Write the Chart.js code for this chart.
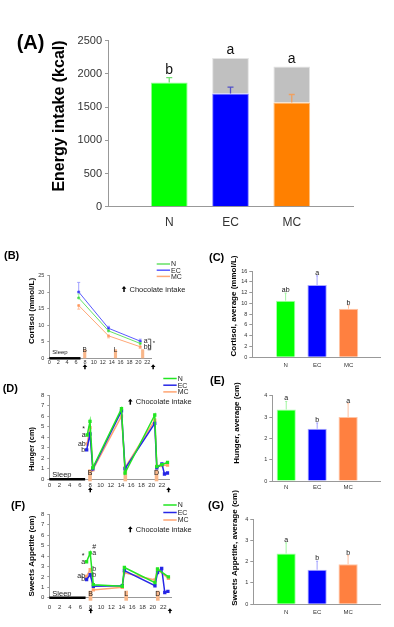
<!DOCTYPE html>
<html>
<head>
<meta charset="utf-8">
<script src="https://cdn.jsdelivr.net/npm/chart.js@4.4.1/dist/chart.umd.min.js"></script>
<style>
  body { margin: 0; background: #fff; width: 394px; height: 627px; position: relative; overflow: hidden;
         font-family: "Liberation Sans", Arial, sans-serif; }
  canvas { position: absolute; }
  .tag { position: absolute; font-weight: bold; line-height: 1; color: #000; }
</style>
</head>
<body>
<canvas id="cA" width="394" height="240" style="left:0;top:0"></canvas>
<canvas id="cB" width="200" height="135" style="left:0;top:240px"></canvas>
<canvas id="cC" width="194" height="135" style="left:200px;top:240px"></canvas>
<canvas id="cD" width="200" height="120" style="left:0;top:375px"></canvas>
<canvas id="cE" width="194" height="120" style="left:200px;top:375px"></canvas>
<canvas id="cF" width="200" height="137" style="left:0;top:490px"></canvas>
<canvas id="cG" width="194" height="137" style="left:200px;top:490px"></canvas>

<div class="tag" style="left:16.7px;top:31.6px;font-size:20px">(A)</div>
<div class="tag" style="left:4px;top:249.6px;font-size:11px">(B)</div>
<div class="tag" style="left:209px;top:252px;font-size:11px">(C)</div>
<div class="tag" style="left:2.7px;top:382.6px;font-size:11px">(D)</div>
<div class="tag" style="left:210px;top:374.6px;font-size:11px">(E)</div>
<div class="tag" style="left:11px;top:500px;font-size:11px">(F)</div>
<div class="tag" style="left:208px;top:500px;font-size:11px">(G)</div>

<script>
// ---- data ----
const groups = ['N', 'EC', 'MC'];
const groupPos = [1, 2, 3];

// (A) energy intake, kcal: meals + chocolate
const energyMeals = [1870, 1705, 1570];
const energyChoc = [0, 535, 540];
const energyErr = [75, 95, 120];
const energyLetters = ['b', 'a', 'a'];

// (C) cortisol average
const cortisolAvg = [10.5, 13.4, 9.0];
const cortisolAvgErr = [1.4, 1.7, 0.6];
const cortisolAvgLetters = ['ab', 'a', 'b'];

// (E) hunger average
const hungerAvg = [3.35, 2.45, 3.0];
const hungerAvgErr = [0.38, 0.27, 0.63];
const hungerAvgLetters = ['a', 'b', 'a'];

// (G) sweets appetite average
const sweetsAvg = [2.38, 1.62, 1.88];
const sweetsAvgErr = [0.5, 0.4, 0.4];
const sweetsAvgLetters = ['a', 'b', 'b'];

// time course common
const hourTicks = [0, 2, 4, 6, 8, 10, 12, 14, 16, 18, 20, 22];
const mealStart = [7.6, 14.5, 20.6];
const mealEnd = [8.3, 15.2, 21.3];
const mealNames = ['B', 'L', 'D'];
const chocTimes = [8, 23.3];
const sleepEnd = 7;

// (B) cortisol
const cortisolHours = [6.6, 13.3, 20.4];
const cortisolN = [18.3, 8.3, 4.5];
const cortisolEC = [20.1, 9.1, 5.2];
const cortisolMC = [16.0, 6.8, 3.5];
const cortisolErrN = [1.2, 0.6, 0.5];
const cortisolErrEC = [2.9, 0.6, 0.6];
const cortisolErrMC = [1.1, 0.6, 0.5];

// (D) hunger
const hungerHoursN = [7.4, 7.95, 8.5, 14.1, 14.8, 20.6, 21.0, 22.0, 23.1];
const hungerN = [4.2, 5.5, 1.1, 6.7, 0.6, 6.1, 1.2, 1.4, 1.6];
const hungerHoursEC = [7.3, 7.95, 8.5, 14.1, 14.8, 20.6, 21.0, 22.0, 22.5, 23.1];
const hungerEC = [2.8, 4.3, 1.0, 6.5, 1.0, 5.3, 1.1, 1.45, 0.5, 0.6];
const hungerHoursMC = [7.4, 7.95, 8.5, 14.1, 14.8, 20.6, 21.0, 22.0, 23.1];
const hungerMC = [3.35, 4.9, 0.9, 6.0, 1.1, 5.6, 1.25, 1.3, 1.35];

// (F) sweets appetite
const sweetsHoursN = [7.2, 7.9, 8.5, 14.1, 14.5, 20.4, 20.9, 23.0];
const sweetsN = [3.45, 4.3, 1.25, 1.1, 2.9, 1.45, 2.75, 2.0];
const sweetsHoursEC = [7.2, 7.9, 8.5, 14.1, 14.5, 20.4, 20.9, 21.7, 22.3, 22.9];
const sweetsEC = [1.75, 2.2, 1.1, 1.15, 2.6, 1.15, 2.4, 2.8, 0.5, 0.6];
const sweetsHoursMC = [7.2, 7.9, 8.5, 14.1, 14.5, 20.4, 20.9, 23.0];
const sweetsMC = [2.05, 2.7, 0.75, 1.0, 2.4, 1.7, 2.7, 1.85];

// ---- styling helpers ----
const FAM = '"Liberation Sans", Arial, sans-serif';
const AXIS = '#999';
const TICK = '#333';
const MEAL = '#f9b78a';
const f = (size) => ({ family: FAM, size: size });
const cf = (size, bold) => (bold ? 'bold ' : '') + size + 'px ' + FAM;
const pts = (xs, ys) => xs.map((v, i) => ({ x: v, y: ys[i] }));

function upArrow(ctx, x, top, h) {
  ctx.save();
  ctx.fillStyle = '#000';
  ctx.strokeStyle = '#000';
  ctx.beginPath();
  ctx.moveTo(x, top);
  ctx.lineTo(x - 2.3, top + 2.8);
  ctx.lineTo(x + 2.3, top + 2.8);
  ctx.closePath();
  ctx.fill();
  ctx.lineWidth = 1.5;
  ctx.beginPath();
  ctx.moveTo(x, top + 2);
  ctx.lineTo(x, top + h);
  ctx.stroke();
  ctx.restore();
}

// extra drawing: meals, sleep bar, error bars, letters, legend, titles
const decor = {
  id: 'decor',
  beforeDatasetsDraw(chart, args, o) {
    const ctx = chart.ctx, x = chart.scales.x, y = chart.scales.y;
    const y0 = y.getPixelForValue(0);
    if (o.meals) {
      const m = o.meals;
      ctx.save();
      mealStart.forEach((s, i) => {
        const l = x.getPixelForValue(s), r = x.getPixelForValue(mealEnd[i]);
        ctx.fillStyle = MEAL;
        ctx.fillRect(l, y0 - m.up, r - l, m.up + m.down);
        if (m.names[i]) {
          ctx.fillStyle = '#222';
          ctx.font = cf(m.size);
          ctx.textAlign = 'center';
          ctx.textBaseline = 'alphabetic';
          ctx.fillText(m.names[i], (l + r) / 2, y0 - m.up + m.drop);
        }
      });
      ctx.restore();
    }
    if (o.sleep) {
      ctx.save();
      ctx.strokeStyle = '#000';
      ctx.lineWidth = 2.5;
      ctx.beginPath();
      ctx.moveTo(x.getPixelForValue(0), y0);
      ctx.lineTo(x.getPixelForValue(sleepEnd), y0);
      ctx.stroke();
      ctx.fillStyle = '#222';
      ctx.font = cf(o.sleep.size);
      ctx.textBaseline = 'alphabetic';
      ctx.fillText('Sleep', x.getPixelForValue(0) + 3, y0 - o.sleep.lift);
      ctx.restore();
    }
    if (o.lineErr) {
      const e = o.lineErr;
      ctx.save();
      ctx.lineWidth = 1;
      chart.data.datasets.forEach((ds, di) => {
        ctx.strokeStyle = e.colors[di];
        ds.data.forEach((p, i) => {
          const px = x.getPixelForValue(p.x);
          const a = y.getPixelForValue(p.y);
          const b = y.getPixelForValue(p.y + e.sign[di] * e.errs[di][i]);
          ctx.beginPath();
          ctx.moveTo(px, a); ctx.lineTo(px, b);
          ctx.moveTo(px - 1.5, b); ctx.lineTo(px + 1.5, b);
          ctx.stroke();
        });
      });
      ctx.restore();
    }
  },
  afterDatasetsDraw(chart, args, o) {
    const ctx = chart.ctx, y = chart.scales.y;
    if (o.errBars) {
      const e = o.errBars;
      const base = chart.data.datasets[0].data;
      const meta = chart.getDatasetMeta(0);
      ctx.save();
      meta.data.forEach((bar, i) => {
        const top = y.getPixelForValue(base[i]);
        const et = y.getPixelForValue(base[i] + e.errs[i]);
        ctx.strokeStyle = e.colors[i];
        ctx.lineWidth = e.width;
        ctx.beginPath();
        ctx.moveTo(bar.x, top); ctx.lineTo(bar.x, et);
        ctx.moveTo(bar.x - e.cap, et); ctx.lineTo(bar.x + e.cap, et);
        ctx.stroke();
        if (o.barLetters) {
          let total = 0;
          chart.data.datasets.forEach(ds => { total += ds.data[i] || 0; });
          const yy = Math.min(et, y.getPixelForValue(total)) - o.barLetters.gap;
          ctx.fillStyle = '#111';
          ctx.font = cf(o.barLetters.size);
          ctx.textAlign = 'center';
          ctx.textBaseline = 'alphabetic';
          ctx.fillText(o.barLetters.texts[i], bar.x, yy);
        }
      });
      ctx.restore();
    }
    if (o.letters) {
      ctx.save();
      ctx.fillStyle = '#222';
      ctx.font = cf(o.letterSize);
      ctx.textBaseline = 'middle';
      o.letters.forEach(spec => {
        spec.texts.forEach((t, di) => {
          const pt = chart.getDatasetMeta(di).data[spec.index];
          if (!t || !pt) return;
          ctx.textAlign = spec.side < 0 ? 'right' : 'left';
          const tx = pt.x + spec.side * spec.gap;
          ctx.fillText(t, tx, pt.y);
          if (di === 0 && spec.mark) {
            ctx.textAlign = 'center';
            const w = ctx.measureText(t).width;
            ctx.fillText(spec.mark, tx + spec.side * w / 2, pt.y - 6);
          }
        });
      });
      ctx.restore();
    }
    if (o.bracket) {
      const b = o.bracket;
      const p1 = chart.getDatasetMeta(b.from).data[b.index];
      const p2 = chart.getDatasetMeta(b.to).data[b.index];
      const bx = p1.x + b.dx;
      ctx.save();
      ctx.strokeStyle = '#333';
      ctx.lineWidth = 0.8;
      ctx.beginPath();
      ctx.moveTo(bx - 3, p1.y - 2); ctx.lineTo(bx, p1.y - 2);
      ctx.lineTo(bx, p2.y + 3); ctx.lineTo(bx - 3, p2.y + 3);
      ctx.stroke();
      ctx.fillStyle = '#222';
      ctx.font = cf(6);
      ctx.textBaseline = 'middle';
      ctx.fillText('*', bx + 2, (p1.y + p2.y) / 2 - 1);
      ctx.restore();
    }
  },
  afterDraw(chart, args, o) {
    const ctx = chart.ctx;
    if (o.title) {
      const t = o.title;
      ctx.save();
      ctx.translate(t.cx, t.cy);
      ctx.rotate(-Math.PI / 2);
      ctx.fillStyle = '#000';
      ctx.font = cf(t.size, true);
      ctx.textAlign = 'center';
      ctx.textBaseline = 'middle';
      ctx.fillText(t.text, 0, 0);
      ctx.restore();
    }
    if (o.choc) {
      const x = chart.scales.x;
      chocTimes.forEach(t => upArrow(ctx, x.getPixelForValue(t), chart.chartArea.bottom + o.choc.drop, o.choc.h));
    }
    if (o.legend) {
      const l = o.legend;
      ctx.save();
      chart.data.datasets.forEach((ds, i) => {
        const yy = l.y + i * l.dy;
        ctx.strokeStyle = ds.borderColor;
        ctx.lineWidth = 1.5;
        ctx.beginPath();
        ctx.moveTo(l.x, yy); ctx.lineTo(l.x + l.len, yy);
        ctx.stroke();
        ctx.fillStyle = '#222';
        ctx.font = cf(l.size);
        ctx.textBaseline = 'middle';
        ctx.fillText(ds.label, l.x + l.len + 1, yy + 0.5);
      });
      upArrow(ctx, l.chocX, l.chocY - 3, 6);
      ctx.fillStyle = '#222';
      ctx.font = cf(l.chocSize);
      ctx.textBaseline = 'middle';
      ctx.fillText('Chocolate intake', l.chocX + 5.5, l.chocY + 0.5);
      ctx.restore();
    }
  }
};

function barChart(id, cfg) {
  return new Chart(document.getElementById(id), {
    type: 'bar',
    data: { labels: groupPos, datasets: cfg.datasets },
    options: {
      responsive: false,
      animation: false,
      layout: { padding: { left: 0, right: cfg.padR, top: cfg.padT, bottom: 0 } },
      plugins: { legend: { display: false }, tooltip: { enabled: false }, decor: cfg.decor },
      datasets: { bar: { categoryPercentage: 1, barPercentage: cfg.barPct } },
      scales: {
        x: {
          type: 'linear', min: cfg.xMin, max: cfg.xMax, offset: false,
          afterBuildTicks: s => { s.ticks = groupPos.map(v => ({ value: v })); },
          afterFit: s => { s.height = cfg.xH; },
          grid: { display: false, drawTicks: false, offset: false },
          border: { color: AXIS },
          ticks: { autoSkip: false, maxRotation: 0, font: f(cfg.xTick), color: TICK, padding: cfg.xPad,
                   callback: v => groups[groupPos.indexOf(v)] }
        },
        y: {
          min: 0, max: cfg.yMax, stacked: true,
          afterFit: s => { s.width = cfg.yW; },
          grid: { drawOnChartArea: false, tickLength: 3, color: AXIS },
          border: { color: AXIS },
          ticks: { stepSize: cfg.yStep, font: f(cfg.yTick), color: TICK, padding: cfg.yPad,
                   callback: v => String(v) }
        }
      }
    },
    plugins: [decor]
  });
}

function lineChart(id, cfg) {
  return new Chart(document.getElementById(id), {
    type: 'line',
    data: { datasets: cfg.datasets },
    options: {
      responsive: false,
      animation: false,
      layout: { padding: { left: 0, right: cfg.padR, top: cfg.padT, bottom: 0 } },
      plugins: { legend: { display: false }, tooltip: { enabled: false }, decor: cfg.decor },
      elements: { line: { tension: 0 }, point: { pointStyle: 'rect', radius: 1.3, borderWidth: 0 } },
      scales: {
        x: {
          type: 'linear', min: 0, max: cfg.xMax,
          afterBuildTicks: s => { s.ticks = hourTicks.map(v => ({ value: v })); },
          afterFit: s => { s.height = cfg.xH; },
          grid: { display: false, drawTicks: false },
          border: { color: AXIS },
          ticks: { autoSkip: false, maxRotation: 0, font: f(cfg.tick), color: TICK, padding: cfg.xPad }
        },
        y: {
          min: 0, max: cfg.yMax,
          afterFit: s => { s.width = cfg.yW; },
          grid: { drawOnChartArea: false, tickLength: 2, color: AXIS },
          border: { color: AXIS },
          ticks: { stepSize: cfg.yStep, font: f(cfg.tick), color: TICK, padding: 3 }
        }
      }
    },
    plugins: [decor]
  });
}

const barColors = ['#00ff00', '#0000ff', '#ff8040'];
const barEdges = ['#a8ffa8', '#a8a8ff', '#ffc4a4'];
const errLight = ['#a0f5a0', '#a0a0ff', '#ffc0a0'];

function lineSets(xsN, ysN, xsE, ysE, xsM, ysM, width, pale) {
  const line = pale ? ['#66e066', '#5a5aff', '#ffa877'] : ['#22e622', '#2626e6', '#ffa472'];
  const dot = ['#11cc11', '#1111dd', '#ff8a4a'];
  return [
    { label: 'N', data: pts(xsN, ysN), borderColor: line[0], pointBackgroundColor: dot[0], borderWidth: width },
    { label: 'EC', data: pts(xsE, ysE), borderColor: line[1], pointBackgroundColor: dot[1], borderWidth: width },
    { label: 'MC', data: pts(xsM, ysM), borderColor: line[2], pointBackgroundColor: dot[2], borderWidth: width }
  ];
}

// (A)
barChart('cA', {
  datasets: [
    { data: energyMeals, backgroundColor: ['#00ff00', '#0000ff', '#ff8000'],
      borderColor: ['#90ff90', '#9090ff', '#ffc080'], borderWidth: 1, stack: 's' },
    { data: energyChoc, backgroundColor: '#c0c0c0', borderColor: '#e4e4e4', borderWidth: 1, stack: 's' }
  ],
  padR: 41, padT: 40.7, yW: 108, xH: 33.3, xMin: 0, xMax: 4, barPct: 0.6,
  yMax: 2500, yStep: 500, xTick: 12, yTick: 11, xPad: 9, yPad: 3,
  decor: {
    title: { text: 'Energy intake (kcal)', cx: 60, cy: 116, size: 16 },
    errBars: { errs: energyErr, colors: ['#70e070', '#5050c8', '#f0a060'], cap: 3, width: 1.3 },
    barLetters: { texts: energyLetters, size: 14, gap: 4 }
  }
});

// (C)
barChart('cC', {
  datasets: [{ data: cortisolAvg, backgroundColor: barColors, borderColor: barEdges, borderWidth: 1 }],
  padR: 14, padT: 31, yW: 52.3, xH: 17.7, xMin: -0.06, xMax: 4.0, barPct: 0.615,
  yMax: 16, yStep: 2, xTick: 6, yTick: 5.5, xPad: 4.4, yPad: 2,
  decor: {
    title: { text: 'Cortisol, average (mmol/L)', cx: 33.3, cy: 66, size: 8 },
    errBars: { errs: cortisolAvgErr, colors: errLight, cap: 1, width: 1 },
    barLetters: { texts: cortisolAvgLetters, size: 7, gap: 1 }
  }
});

// (E)
barChart('cE', {
  datasets: [{ data: hungerAvg, backgroundColor: barColors, borderColor: barEdges, borderWidth: 1 }],
  padR: 14, padT: 20.7, yW: 72.3, xH: 14, xMin: 0.55, xMax: 4.03, barPct: 0.62,
  yMax: 4, yStep: 1, xTick: 6, yTick: 5.5, xPad: 2.4, yPad: 2,
  decor: {
    title: { text: 'Hunger, average (cm)', cx: 36.7, cy: 48, size: 8 },
    errBars: { errs: hungerAvgErr, colors: errLight, cap: 1, width: 1 },
    barLetters: { texts: hungerAvgLetters, size: 7, gap: 1 }
  }
});

// (G)
barChart('cG', {
  datasets: [{ data: sweetsAvg, backgroundColor: barColors, borderColor: barEdges, borderWidth: 1 }],
  padR: 14, padT: 29, yW: 53.3, xH: 22.7, xMin: -0.06, xMax: 4.03, barPct: 0.62,
  yMax: 4, yStep: 1, xTick: 6, yTick: 5.5, xPad: 4, yPad: 2,
  decor: {
    title: { text: 'Sweets Appetite, average (cm)', cx: 35, cy: 58, size: 8 },
    errBars: { errs: sweetsAvgErr, colors: errLight, cap: 1, width: 1 },
    barLetters: { texts: sweetsAvgLetters, size: 7, gap: 1 }
  }
});

// (B)
lineChart('cB', {
  datasets: lineSets(cortisolHours, cortisolN, cortisolHours, cortisolEC, cortisolHours, cortisolMC, 1, true),
  padR: 48.2, padT: 35.8, yW: 49.3, xH: 16.7, xMax: 23, yMax: 25, yStep: 5, tick: 5.5, xPad: 0.5,
  decor: {
    title: { text: 'Cortisol (mmol/L)', cx: 31.7, cy: 71, size: 8 },
    meals: { up: 9, down: 0, names: ['B', 'L', ''], size: 6.5, drop: 3 },
    sleep: { size: 6, lift: 4 },
    choc: { drop: 6, h: 5 },
    legend: { x: 156.7, y: 24, dy: 6.2, len: 13.3, size: 7, chocX: 124, chocY: 49, chocSize: 7.5 },
    lineErr: { errs: [cortisolErrN, cortisolErrEC, cortisolErrMC], sign: [1, 1, -1], colors: errLight },
    letterSize: 7,
    letters: [{ index: 2, side: 1, gap: 3.5, texts: ['', 'a', 'bb'] }],
    bracket: { from: 1, to: 2, index: 2, dx: 10.5 }
  }
});

// (D)
lineChart('cD', {
  datasets: lineSets(hungerHoursN, hungerN, hungerHoursEC, hungerEC, hungerHoursMC, hungerMC, 1.5, false),
  padR: 30.4, padT: 20, yW: 49.3, xH: 15.7, xMax: 23.5, yMax: 8, yStep: 1, tick: 6, xPad: 2.5,
  decor: {
    title: { text: 'Hunger (cm)', cx: 32.3, cy: 74, size: 7.5 },
    meals: { up: 10, down: 2, names: ['B', '', 'D'], size: 7, drop: 6 },
    sleep: { size: 7.5, lift: 2.3 },
    choc: { drop: 8, h: 5 },
    legend: { x: 163.3, y: 3.5, dy: 6.7, len: 13.4, size: 7, chocX: 130.3, chocY: 26.7, chocSize: 7.5 },
    letterSize: 7,
    letters: [{ index: 0, side: -1, gap: 1.5, texts: ['a', 'b', 'ab'], mark: '*' }]
  }
});

// (F)
lineChart('cF', {
  datasets: lineSets(sweetsHoursN, sweetsN, sweetsHoursEC, sweetsEC, sweetsHoursMC, sweetsMC, 1.5, false),
  padR: 29, padT: 24.3, yW: 49.3, xH: 29.3, xMax: 23.5, yMax: 8, yStep: 1, tick: 6, xPad: 6.3,
  decor: {
    title: { text: 'Sweets Appetite (cm)', cx: 31.7, cy: 66, size: 8 },
    meals: { up: 7, down: 3, names: mealNames, size: 7, drop: 5 },
    sleep: { size: 7.5, lift: 2 },
    choc: { drop: 10.5, h: 5 },
    legend: { x: 163.3, y: 15, dy: 7.5, len: 13.4, size: 7, chocX: 130.3, chocY: 39.3, chocSize: 7.5 },
    letterSize: 7,
    letters: [
      { index: 0, side: -1, gap: 1.5, texts: ['a', 'b', 'ab'], mark: '*' },
      { index: 1, side: 1, gap: 2, texts: ['a', 'b', 'b'], mark: '#' }
    ]
  }
});
</script>
</body>
</html>
